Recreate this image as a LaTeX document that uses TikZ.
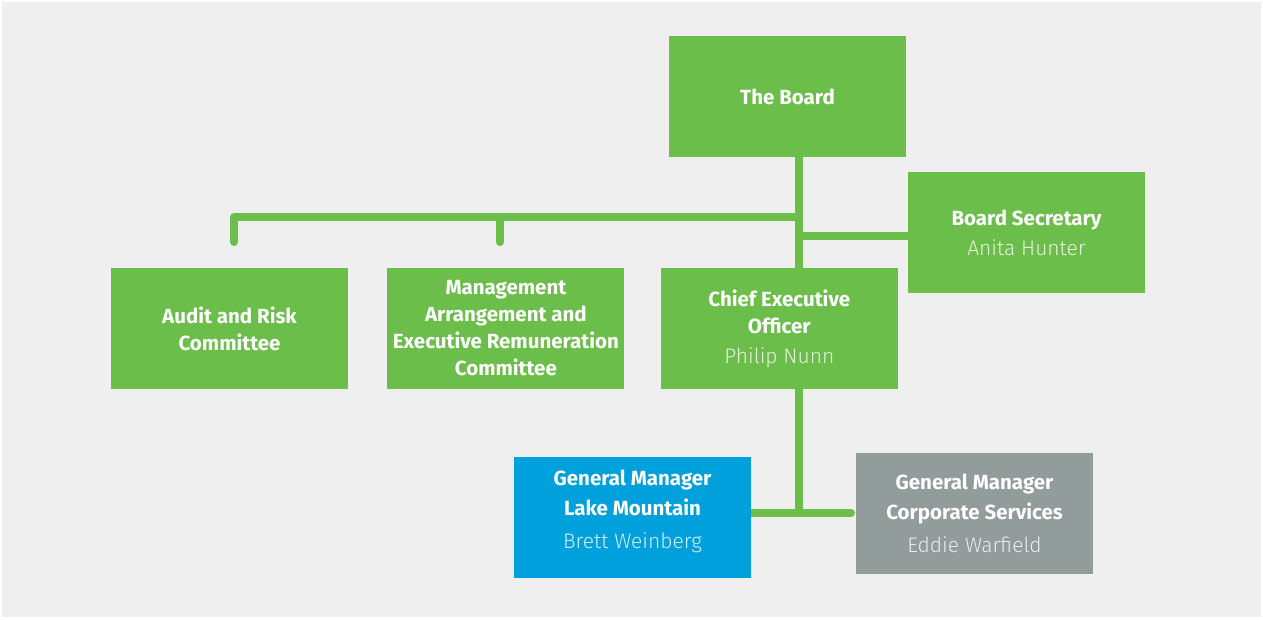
\documentclass[tikz,border=0pt]{standalone}
\usepackage{fontspec}
\setmainfont{Fira Sans}
\newfontfamily\namefont{Fira Sans Light}
\usepackage{tikz}
\usetikzlibrary{positioning, backgrounds}

\definecolor{boardgreen}{HTML}{6CBE4A}
\definecolor{lakeblue}{HTML}{00A0DC}
\definecolor{corpgray}{HTML}{919C9B}
\definecolor{pagegray}{HTML}{EFEFEF}

\newcommand{\who}[2]{\\[3pt]{\namefont\mdseries\fontsize{21}{24}\selectfont\color{#1}#2}}

\begin{document}
\begin{tikzpicture}
            [x=1pt, y=-1pt, node distance=39pt,
            unit/.style={rectangle, fill=boardgreen, text=white, minimum width=237pt, minimum height=121pt, inner sep=0pt, align=center, font=\bfseries\fontsize{20.5}{27}\selectfont},
            manager/.style={unit, font=\bfseries\fontsize{20.5}{30}\selectfont},
            link/.style={draw=boardgreen, line width=8pt}]
            \useasboundingbox (0,0) rectangle (1263,619);

            \node[unit]  (board)  at (787.5,96.5)  {The Board};

            \node[unit]  (secretary)  at (1026.5,232.5)
            {Board Secretary \who{white!80!boardgreen}{Anita Hunter}};

            \node[unit]  (audit)  at (229.5,328.5)
            {Audit and Risk \\ Committee};

            \node[unit]  (remuneration)  [right = 39pt of audit]
            {Management \\ Arrangement and \\ Executive Remuneration \\ Committee};

            \node[unit]  (ceo)  [right = 36pt of remuneration]
            {Chief Executive \\ Officer \who{white!80!boardgreen}{Philip Nunn}};

            \node[manager, fill=lakeblue, text depth=16pt]  (lake)  at (632.5,517.5)
            {General Manager \\ Lake Mountain \who{white!82!lakeblue}{Brett Weinberg}};

            \node[manager, fill=corpgray]  (corporate)  at (974.5,513.5)
            {General Manager \\ Corporate Services \who{white!80!corpgray}{Eddie Warfield}};

            \coordinate (hub)       at (799,217);
            \coordinate (sechub)    at (799,236);
            \coordinate (auditend)  at (234,242);
            \coordinate (remend)    at (500,242);
            \coordinate (gmend)     at (851,513);

            \begin{scope}[on background layer]
                \fill[pagegray] (2,2) rectangle (1261,617);
                \draw[link] (board.south -| hub) -- (ceo.north -| hub);
                \draw[link, line cap=round, line join=round] (hub) -| (auditend);
                \draw[link, line cap=round] (remend) -- (remend |- hub);
                \draw[link] (sechub) -- (sechub -| secretary.west);
                \draw[link] (ceo.south -| hub) -- (hub |- gmend);
                \draw[link, line cap=round] (lake.east |- gmend) -- (gmend);
            \end{scope}
        \end{tikzpicture}
\end{document}
